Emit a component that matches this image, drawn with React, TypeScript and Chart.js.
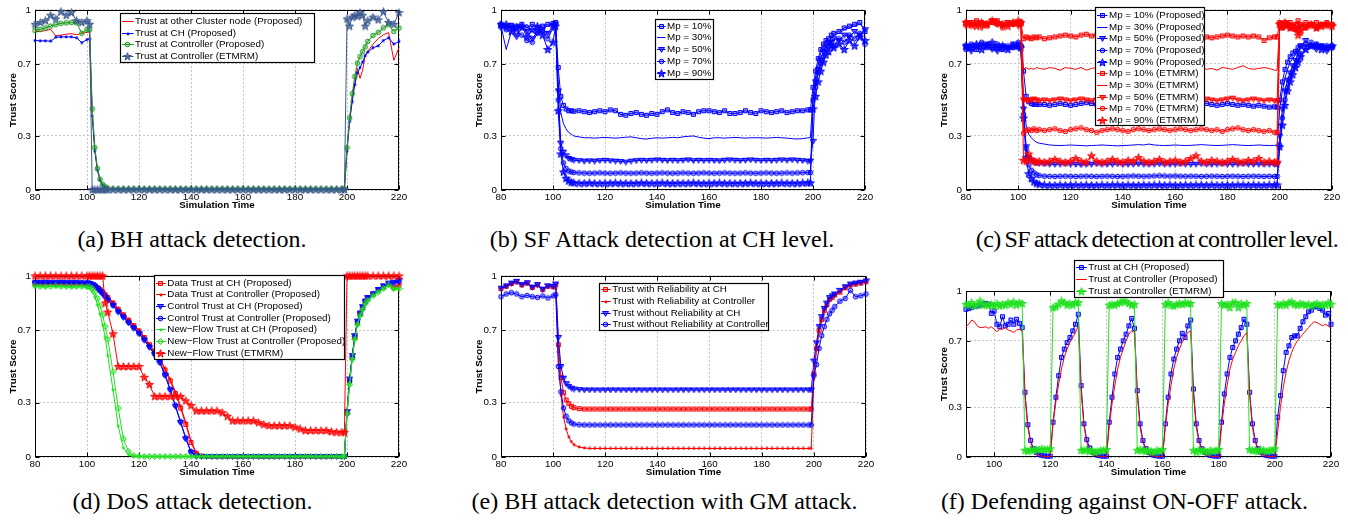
import React, { useEffect, useRef } from "react";
import { Chart, registerables } from "chart.js";

Chart.register(...registerables);
Chart.defaults.font.family = '"Liberation Sans", Arial, Helvetica, sans-serif';
Chart.defaults.color = "#000";

// ================= axes / ticks =================
const X_TICKS = [80, 100, 120, 140, 160, 180, 200, 220];
const X_TICK_LABELS = ["80", "100", "120", "140", "160", "180", "200", "220"];
const X_TICKS_F = [100, 120, 140, 160, 180, 200, 220];
const X_TICK_LABELS_F = ["100", "120", "140", "160", "180", "200", "220"];
const Y_TICKS = [0, 0.3, 0.7, 1];
const Y_TICK_LABELS = ["0", "0.3", "0.7", "1"];
const X_TITLE = "Simulation Time";
const Y_TITLE = "Trust Score";

// ================= sample times =================
const XA = [
  80, 82, 84, 86, 88, 90, 92, 94, 96, 98, 100,
  101, 102, 103, 104, 105, 106, 107, 108,
  110, 112, 114, 116, 118, 120, 122, 124, 126, 128, 130, 132, 134, 136, 138,
  140, 142, 144, 146, 148, 150, 152, 154, 156, 158, 160, 162, 164, 166, 168,
  170, 172, 174, 176, 178, 180, 182, 184, 186, 188, 190, 192, 194, 196, 198,
  199, 200, 201, 202, 203, 204, 205, 206, 207, 208,
  210, 212, 214, 216, 218, 220,
];
const XF = [
  90, 91, 92, 93, 94, 95, 96, 97, 98, 99,
  100, 101, 102, 103, 104, 105, 106, 107, 108, 109,
  110, 111, 112, 113, 114, 115, 116, 117, 118, 119,
  120, 121, 122, 123, 124, 125, 126, 127, 128, 129,
  130, 131, 132, 133, 134, 135, 136, 137, 138, 139,
  140, 141, 142, 143, 144, 145, 146, 147, 148, 149,
  150, 151, 152, 153, 154, 155, 156, 157, 158, 159,
  160, 161, 162, 163, 164, 165, 166, 167, 168, 169,
  170, 171, 172, 173, 174, 175, 176, 177, 178, 179,
  180, 181, 182, 183, 184, 185, 186, 187, 188, 189,
  190, 191, 192, 193, 194, 195, 196, 197, 198, 199,
  200, 201, 202, 203, 204, 205, 206, 207, 208, 209,
  210, 211, 212, 213, 214, 215, 216, 217, 218, 219,
  220,
];

// ================= (a) BH attack detection =================
const A_OTHER = [
  0.88, 0.88, 0.885, 0.892, 0.855, 0.86, 0.865, 0.868, 0.862, 0.87, 0.875,
  0.878, 0.44, 0.23, 0.115, 0.058, 0.03, 0.016, 0.009,
  0.005, 0.005, 0.005, 0.005, 0.005, 0.005, 0.005, 0.005, 0.005, 0.005, 0.005, 0.005, 0.005, 0.005, 0.005,
  0.005, 0.005, 0.005, 0.005, 0.005, 0.005, 0.005, 0.005, 0.005, 0.005, 0.005, 0.005, 0.005, 0.005, 0.005,
  0.005, 0.005, 0.005, 0.005, 0.005, 0.005, 0.005, 0.005, 0.005, 0.005, 0.005, 0.005, 0.005, 0.005, 0.005,
  0.005, 0.23, 0.39, 0.51, 0.6, 0.675, 0.62, 0.665, 0.75, 0.77,
  0.81, 0.84, 0.862, 0.874, 0.72, 0.79,
];
const A_CH = [
  0.83, 0.828, 0.828, 0.826, 0.848, 0.85, 0.85, 0.85, 0.845, 0.818, 0.835,
  0.838, 0.41, 0.215, 0.11, 0.055, 0.028, 0.015, 0.008,
  0.004, 0.004, 0.004, 0.004, 0.004, 0.004, 0.004, 0.004, 0.004, 0.004, 0.004, 0.004, 0.004, 0.004, 0.004,
  0.004, 0.004, 0.004, 0.004, 0.004, 0.004, 0.004, 0.004, 0.004, 0.004, 0.004, 0.004, 0.004, 0.004, 0.004,
  0.004, 0.004, 0.004, 0.004, 0.004, 0.004, 0.004, 0.004, 0.004, 0.004, 0.004, 0.004, 0.004, 0.004, 0.004,
  0.004, 0.215, 0.38, 0.49, 0.585, 0.65, 0.68, 0.71, 0.745, 0.765,
  0.79, 0.8, 0.83, 0.845, 0.81, 0.825,
];
const A_CTRL = [
  0.885, 0.892, 0.9, 0.91, 0.918, 0.925, 0.928, 0.93, 0.928, 0.87, 0.892,
  0.89, 0.45, 0.235, 0.12, 0.06, 0.032, 0.018, 0.01,
  0.006, 0.006, 0.006, 0.006, 0.006, 0.006, 0.006, 0.006, 0.006, 0.006, 0.006, 0.006, 0.006, 0.006, 0.006,
  0.006, 0.006, 0.006, 0.006, 0.006, 0.006, 0.006, 0.006, 0.006, 0.006, 0.006, 0.006, 0.006, 0.006, 0.006,
  0.006, 0.006, 0.006, 0.006, 0.006, 0.006, 0.006, 0.006, 0.006, 0.006, 0.006, 0.006, 0.006, 0.006, 0.006,
  0.006, 0.235, 0.4, 0.535, 0.63, 0.705, 0.74, 0.768, 0.795, 0.825,
  0.858, 0.875, 0.9, 0.918, 0.88, 0.9,
];
const A_ETMRM = [
  0.92, 0.93, 0.94, 0.97, 0.95, 0.99, 0.97, 0.985, 0.94, 0.93, 0.94,
  0.92, 0.002, 0.002, 0.002, 0.002, 0.002, 0.002, 0.002,
  0.002, 0.002, 0.002, 0.002, 0.002, 0.002, 0.002, 0.002, 0.002, 0.002, 0.002, 0.002, 0.002, 0.002, 0.002,
  0.002, 0.002, 0.002, 0.002, 0.002, 0.002, 0.002, 0.002, 0.002, 0.002, 0.002, 0.002, 0.002, 0.002, 0.002,
  0.002, 0.002, 0.002, 0.002, 0.002, 0.002, 0.002, 0.002, 0.002, 0.002, 0.002, 0.002, 0.002, 0.002, 0.002,
  0.002, 0.95, 0.91, 0.96, 0.97, 0.965, 0.985, 0.97, 0.91, 0.94,
  0.96, 0.945, 0.99, 0.93, 0.92, 0.985,
];

// ================= (b) SF attack at CH level =================
const B_10 = [
  0.92, 0.9, 0.915, 0.91, 0.92, 0.9, 0.92, 0.9, 0.91, 0.92, 0.925,
  0.93, 0.68, 0.52, 0.47, 0.45, 0.44, 0.44, 0.437,
  0.44, 0.435, 0.43, 0.435, 0.44, 0.435, 0.445, 0.44, 0.42, 0.415, 0.425, 0.43, 0.42, 0.415, 0.425,
  0.42, 0.435, 0.445, 0.43, 0.425, 0.435, 0.43, 0.42, 0.435, 0.44, 0.44, 0.435, 0.43, 0.44, 0.425,
  0.425, 0.43, 0.44, 0.43, 0.425, 0.44, 0.435, 0.43, 0.435, 0.44, 0.43, 0.435, 0.44, 0.44, 0.445,
  0.445, 0.57, 0.66, 0.73, 0.78, 0.81, 0.83, 0.84, 0.86, 0.87,
  0.88, 0.9, 0.91, 0.92, 0.93, 0.88,
];
const B_30 = [
  0.91, 0.78, 0.88, 0.91, 0.9, 0.92, 0.88, 0.86, 0.9, 0.91, 0.92,
  0.925, 0.6, 0.43, 0.37, 0.34, 0.32, 0.31, 0.3,
  0.295, 0.29, 0.29, 0.288, 0.29, 0.292, 0.29, 0.288, 0.29, 0.293, 0.295, 0.29, 0.285, 0.283, 0.287,
  0.29, 0.288, 0.29, 0.292, 0.29, 0.295, 0.298, 0.3, 0.293, 0.288, 0.285, 0.29, 0.29, 0.288, 0.29,
  0.292, 0.29, 0.288, 0.29, 0.29, 0.29, 0.288, 0.29, 0.292, 0.29, 0.288, 0.285, 0.283, 0.285, 0.29,
  0.29, 0.52, 0.63, 0.7, 0.76, 0.79, 0.82, 0.83, 0.84, 0.86,
  0.87, 0.89, 0.9, 0.91, 0.92, 0.9,
];
const B_50 = [
  0.9, 0.91, 0.9, 0.85, 0.9, 0.88, 0.84, 0.88, 0.89, 0.87, 0.91,
  0.92, 0.55, 0.26, 0.21, 0.19, 0.175, 0.17, 0.165,
  0.163, 0.16, 0.162, 0.16, 0.163, 0.165, 0.162, 0.16, 0.158, 0.155, 0.16, 0.163, 0.165, 0.163, 0.165,
  0.167, 0.165, 0.163, 0.165, 0.163, 0.165, 0.167, 0.163, 0.165, 0.163, 0.165, 0.163, 0.162, 0.165, 0.167,
  0.165, 0.163, 0.165, 0.167, 0.165, 0.163, 0.165, 0.163, 0.165, 0.167, 0.165, 0.167, 0.165, 0.163, 0.16,
  0.16, 0.27, 0.6, 0.67, 0.72, 0.77, 0.8, 0.82, 0.82, 0.84,
  0.83, 0.86, 0.85, 0.88, 0.86, 0.89,
];
const B_70 = [
  0.91, 0.89, 0.91, 0.88, 0.86, 0.83, 0.82, 0.87, 0.88, 0.84, 0.9,
  0.92, 0.5, 0.23, 0.15, 0.12, 0.105, 0.1, 0.097,
  0.095, 0.094, 0.093, 0.094, 0.095, 0.094, 0.093, 0.094, 0.095, 0.094, 0.093, 0.094, 0.095, 0.094, 0.093,
  0.094, 0.095, 0.094, 0.093, 0.094, 0.095, 0.094, 0.093, 0.094, 0.095, 0.094, 0.093, 0.094, 0.095, 0.094,
  0.093, 0.094, 0.095, 0.094, 0.093, 0.094, 0.095, 0.094, 0.093, 0.094, 0.095, 0.094, 0.095, 0.096, 0.097,
  0.097, 0.5, 0.57, 0.65, 0.7, 0.74, 0.78, 0.8, 0.82, 0.8,
  0.84, 0.82, 0.86, 0.84, 0.87, 0.81,
];
const B_90 = [
  0.92, 0.92, 0.88, 0.9, 0.91, 0.85, 0.89, 0.91, 0.86, 0.78, 0.82,
  0.91, 0.44, 0.2, 0.1, 0.065, 0.05, 0.043, 0.04,
  0.038, 0.038, 0.039, 0.038, 0.037, 0.038, 0.038, 0.039, 0.038, 0.038, 0.037, 0.038, 0.039, 0.038, 0.038,
  0.038, 0.039, 0.038, 0.037, 0.038, 0.038, 0.038, 0.039, 0.038, 0.037, 0.038, 0.038, 0.039, 0.038, 0.038,
  0.037, 0.038, 0.038, 0.039, 0.038, 0.038, 0.037, 0.038, 0.038, 0.039, 0.038, 0.038, 0.038, 0.039, 0.04,
  0.04, 0.45, 0.52, 0.6, 0.66, 0.71, 0.75, 0.77, 0.8, 0.79,
  0.81, 0.78, 0.83, 0.8, 0.85, 0.83,
];

// ================= (c) SF attack at controller level =================
const C_P10 = [
  0.79, 0.8, 0.78, 0.81, 0.8, 0.79, 0.8, 0.78, 0.79, 0.8, 0.81,
  0.8, 0.66, 0.52, 0.49, 0.48, 0.475, 0.475, 0.475,
  0.475, 0.47, 0.475, 0.48, 0.475, 0.47, 0.475, 0.48, 0.485, 0.48, 0.475, 0.47, 0.475, 0.48, 0.475,
  0.47, 0.475, 0.48, 0.475, 0.47, 0.475, 0.48, 0.485, 0.48, 0.475, 0.47, 0.475, 0.48, 0.475, 0.48,
  0.485, 0.48, 0.475, 0.47, 0.475, 0.48, 0.475, 0.47, 0.475, 0.47, 0.465, 0.47, 0.465, 0.46, 0.462,
  0.46, 0.5, 0.6, 0.67, 0.71, 0.74, 0.76, 0.77, 0.79, 0.8,
  0.81, 0.8, 0.81, 0.8, 0.79, 0.8,
];
const C_P30 = [
  0.77, 0.79, 0.8, 0.78, 0.82, 0.8, 0.79, 0.77, 0.8, 0.78, 0.8,
  0.8, 0.5, 0.36, 0.31, 0.29, 0.275, 0.265, 0.26,
  0.255, 0.25, 0.248, 0.247, 0.248, 0.25, 0.248, 0.247, 0.245, 0.247, 0.248, 0.25, 0.248, 0.247, 0.245,
  0.247, 0.248, 0.25, 0.252, 0.25, 0.255, 0.25, 0.248, 0.247, 0.248, 0.25, 0.248, 0.247, 0.248, 0.25,
  0.252, 0.25, 0.248, 0.247, 0.248, 0.25, 0.252, 0.25, 0.248, 0.247, 0.248, 0.25, 0.248, 0.247, 0.248,
  0.25, 0.45, 0.55, 0.62, 0.67, 0.71, 0.73, 0.75, 0.77, 0.79,
  0.8, 0.79, 0.8, 0.81, 0.8, 0.81,
];
const C_P50 = [
  0.8, 0.77, 0.79, 0.8, 0.81, 0.78, 0.77, 0.8, 0.79, 0.81, 0.79,
  0.79, 0.45, 0.24, 0.18, 0.165, 0.155, 0.15, 0.148,
  0.145, 0.143, 0.142, 0.143, 0.145, 0.143, 0.142, 0.14, 0.142, 0.143, 0.145, 0.143, 0.142, 0.143, 0.145,
  0.143, 0.142, 0.143, 0.145, 0.143, 0.142, 0.143, 0.145, 0.143, 0.142, 0.143, 0.145, 0.143, 0.142, 0.143,
  0.145, 0.143, 0.142, 0.143, 0.145, 0.143, 0.142, 0.143, 0.145, 0.143, 0.142, 0.143, 0.142, 0.143, 0.142,
  0.142, 0.3, 0.45, 0.55, 0.61, 0.65, 0.69, 0.72, 0.76, 0.8,
  0.83, 0.8, 0.78, 0.8, 0.77, 0.79,
];
const C_P70 = [
  0.78, 0.81, 0.8, 0.82, 0.79, 0.8, 0.81, 0.79, 0.8, 0.79, 0.82,
  0.8, 0.42, 0.23, 0.14, 0.11, 0.095, 0.085, 0.08,
  0.077, 0.076, 0.075, 0.076, 0.077, 0.076, 0.075, 0.076, 0.077, 0.076, 0.075, 0.076, 0.077, 0.076, 0.075,
  0.076, 0.077, 0.078, 0.077, 0.076, 0.077, 0.078, 0.079, 0.078, 0.077, 0.078, 0.077, 0.076, 0.077, 0.076,
  0.075, 0.076, 0.077, 0.076, 0.075, 0.076, 0.077, 0.076, 0.075, 0.076, 0.077, 0.076, 0.075, 0.076, 0.075,
  0.075, 0.25, 0.4, 0.5, 0.57, 0.62, 0.66, 0.69, 0.72, 0.75,
  0.79, 0.82, 0.8, 0.79, 0.8, 0.79,
];
const C_P90 = [
  0.8, 0.79, 0.81, 0.78, 0.8, 0.82, 0.79, 0.8, 0.78, 0.8, 0.8,
  0.79, 0.4, 0.18, 0.09, 0.065, 0.045, 0.037, 0.032,
  0.028, 0.027, 0.027, 0.028, 0.027, 0.028, 0.028, 0.027, 0.028, 0.027, 0.027, 0.028, 0.027, 0.028, 0.028,
  0.027, 0.028, 0.027, 0.027, 0.028, 0.027, 0.028, 0.028, 0.027, 0.028, 0.027, 0.027, 0.028, 0.027, 0.028,
  0.028, 0.027, 0.028, 0.027, 0.027, 0.028, 0.027, 0.028, 0.028, 0.027, 0.028, 0.027, 0.027, 0.028, 0.028,
  0.028, 0.24, 0.36, 0.47, 0.55, 0.6, 0.64, 0.68, 0.71, 0.74,
  0.78, 0.8, 0.8, 0.78, 0.79, 0.8,
];
const C_E10 = [
  0.93, 0.92, 0.94, 0.93, 0.92, 0.93, 0.94, 0.92, 0.93, 0.92, 0.93,
  0.93, 0.84, 0.85, 0.845, 0.84, 0.85, 0.845, 0.85,
  0.84, 0.845, 0.85, 0.855, 0.86, 0.855, 0.85, 0.86, 0.865, 0.855, 0.86, 0.85, 0.845, 0.85, 0.855,
  0.86, 0.85, 0.845, 0.85, 0.86, 0.855, 0.85, 0.845, 0.85, 0.855, 0.86, 0.855, 0.85, 0.845, 0.85,
  0.855, 0.85, 0.845, 0.85, 0.855, 0.86, 0.855, 0.85, 0.855, 0.85, 0.855, 0.85, 0.83, 0.845, 0.85,
  0.85, 0.93, 0.92, 0.93, 0.92, 0.93, 0.91, 0.92, 0.94, 0.92,
  0.93, 0.92, 0.93, 0.92, 0.93, 0.92,
];
const C_E30 = [
  0.92, 0.93, 0.91, 0.92, 0.94, 0.92, 0.91, 0.93, 0.92, 0.91, 0.92,
  0.92, 0.67, 0.68, 0.67, 0.675, 0.67, 0.68, 0.675,
  0.67, 0.68, 0.675, 0.665, 0.68, 0.675, 0.67, 0.68, 0.665, 0.675, 0.68, 0.67, 0.675, 0.68, 0.67,
  0.675, 0.665, 0.68, 0.675, 0.67, 0.68, 0.675, 0.67, 0.68, 0.675, 0.665, 0.675, 0.68, 0.67, 0.675,
  0.68, 0.67, 0.675, 0.665, 0.68, 0.675, 0.67, 0.68, 0.69, 0.675, 0.67, 0.675, 0.68, 0.675, 0.665,
  0.665, 0.92, 0.91, 0.92, 0.9, 0.92, 0.91, 0.92, 0.93, 0.91,
  0.92, 0.91, 0.92, 0.93, 0.92, 0.91,
];
const C_E50 = [
  0.91, 0.93, 0.92, 0.9, 0.92, 0.94, 0.92, 0.91, 0.93, 0.92, 0.91,
  0.92, 0.5, 0.5, 0.495, 0.5, 0.505, 0.5, 0.495,
  0.5, 0.495, 0.5, 0.505, 0.5, 0.495, 0.5, 0.505, 0.5, 0.495, 0.5, 0.505, 0.5, 0.495, 0.5,
  0.505, 0.5, 0.495, 0.5, 0.505, 0.5, 0.495, 0.5, 0.505, 0.5, 0.495, 0.5, 0.505, 0.5, 0.495,
  0.5, 0.505, 0.5, 0.495, 0.5, 0.505, 0.51, 0.5, 0.495, 0.5, 0.505, 0.5, 0.495, 0.5, 0.495,
  0.495, 0.92, 0.9, 0.91, 0.92, 0.9, 0.91, 0.89, 0.9, 0.91,
  0.9, 0.92, 0.9, 0.91, 0.92, 0.91,
];
const C_E70 = [
  0.92, 0.91, 0.93, 0.92, 0.91, 0.93, 0.92, 0.9, 0.92, 0.93, 0.92,
  0.92, 0.315, 0.33, 0.335, 0.33, 0.34, 0.33, 0.335,
  0.33, 0.335, 0.34, 0.33, 0.325, 0.335, 0.34, 0.345, 0.335, 0.33, 0.32, 0.33, 0.335, 0.34, 0.335,
  0.33, 0.325, 0.335, 0.34, 0.335, 0.33, 0.335, 0.34, 0.335, 0.33, 0.335, 0.34, 0.335, 0.33, 0.335,
  0.34, 0.335, 0.33, 0.335, 0.325, 0.335, 0.34, 0.345, 0.335, 0.33, 0.335, 0.33, 0.325, 0.33, 0.32,
  0.32, 0.91, 0.9, 0.92, 0.91, 0.9, 0.91, 0.89, 0.88, 0.87,
  0.9, 0.91, 0.9, 0.92, 0.91, 0.92,
];
const C_E90 = [
  0.93, 0.92, 0.91, 0.93, 0.92, 0.94, 0.93, 0.92, 0.91, 0.93, 0.94,
  0.93, 0.165, 0.16, 0.2, 0.17, 0.16, 0.155, 0.16,
  0.155, 0.16, 0.17, 0.16, 0.155, 0.16, 0.175, 0.16, 0.155, 0.19, 0.16, 0.155, 0.16, 0.17, 0.16,
  0.155, 0.165, 0.16, 0.18, 0.16, 0.155, 0.16, 0.17, 0.155, 0.16, 0.165, 0.155, 0.16, 0.175, 0.19,
  0.16, 0.155, 0.165, 0.16, 0.155, 0.16, 0.17, 0.16, 0.155, 0.165, 0.16, 0.175, 0.155, 0.16, 0.155,
  0.155, 0.92, 0.91, 0.93, 0.92, 0.9, 0.91, 0.9, 0.86, 0.89,
  0.91, 0.92, 0.9, 0.91, 0.92, 0.91,
];

// ================= (d) DoS attack detection =================
const D_DATA_CH = [
  0.955, 0.955, 0.953, 0.955, 0.955, 0.953, 0.955, 0.955, 0.955, 0.953, 0.955,
  0.953, 0.95, 0.945, 0.935, 0.925, 0.91, 0.895, 0.88,
  0.85, 0.815, 0.785, 0.755, 0.725, 0.695, 0.66, 0.62, 0.58, 0.54, 0.48, 0.42, 0.35, 0.27, 0.18,
  0.08, 0.02, 0.006, 0.003, 0.003, 0.003, 0.003, 0.003, 0.003, 0.003, 0.003, 0.003, 0.003, 0.003, 0.003,
  0.003, 0.003, 0.003, 0.003, 0.003, 0.003, 0.003, 0.003, 0.003, 0.003, 0.003, 0.003, 0.003, 0.003, 0.003,
  0.003, 0.25, 0.42, 0.55, 0.66, 0.74, 0.79, 0.825, 0.86, 0.88,
  0.9, 0.925, 0.94, 0.955, 0.935, 0.95,
];
const D_DATA_CTRL = [
  0.958, 0.958, 0.957, 0.958, 0.958, 0.957, 0.958, 0.958, 0.958, 0.957, 0.958,
  0.956, 0.953, 0.948, 0.94, 0.93, 0.915, 0.9, 0.885,
  0.855, 0.82, 0.79, 0.76, 0.73, 0.7, 0.665, 0.625, 0.585, 0.545, 0.49, 0.43, 0.36, 0.28, 0.19,
  0.09, 0.025, 0.008, 0.004, 0.003, 0.003, 0.003, 0.003, 0.003, 0.003, 0.003, 0.003, 0.003, 0.003, 0.003,
  0.003, 0.003, 0.003, 0.003, 0.003, 0.003, 0.003, 0.003, 0.003, 0.003, 0.003, 0.003, 0.003, 0.003, 0.003,
  0.003, 0.25, 0.42, 0.55, 0.66, 0.74, 0.79, 0.825, 0.86, 0.88,
  0.9, 0.925, 0.94, 0.955, 0.935, 0.95,
];
const D_CTRL_CH = [
  0.962, 0.962, 0.963, 0.962, 0.962, 0.963, 0.962, 0.962, 0.962, 0.96, 0.96,
  0.957, 0.952, 0.943, 0.93, 0.915, 0.9, 0.882, 0.865,
  0.835, 0.8, 0.77, 0.74, 0.71, 0.68, 0.645, 0.605, 0.565, 0.52, 0.45, 0.37, 0.28, 0.19, 0.1,
  0.025, 0.005, 0.003, 0.003, 0.003, 0.003, 0.003, 0.003, 0.003, 0.003, 0.003, 0.003, 0.003, 0.003, 0.003,
  0.003, 0.003, 0.003, 0.003, 0.003, 0.003, 0.003, 0.003, 0.003, 0.003, 0.003, 0.003, 0.003, 0.003, 0.003,
  0.003, 0.25, 0.43, 0.56, 0.67, 0.75, 0.795, 0.83, 0.86, 0.88,
  0.9, 0.925, 0.945, 0.96, 0.965, 0.975,
];
const D_CTRL_CTRL = [
  0.965, 0.965, 0.966, 0.965, 0.965, 0.966, 0.965, 0.965, 0.965, 0.963, 0.963,
  0.96, 0.955, 0.946, 0.934, 0.92, 0.905, 0.887, 0.87,
  0.84, 0.805, 0.775, 0.745, 0.715, 0.685, 0.65, 0.61, 0.57, 0.525, 0.455, 0.375, 0.285, 0.195, 0.105,
  0.03, 0.007, 0.003, 0.003, 0.003, 0.003, 0.003, 0.003, 0.003, 0.003, 0.003, 0.003, 0.003, 0.003, 0.003,
  0.003, 0.003, 0.003, 0.003, 0.003, 0.003, 0.003, 0.003, 0.003, 0.003, 0.003, 0.003, 0.003, 0.003, 0.003,
  0.003, 0.24, 0.42, 0.55, 0.665, 0.745, 0.79, 0.825, 0.855, 0.875,
  0.9, 0.92, 0.94, 0.955, 0.96, 0.97,
];
const D_NF_CH = [
  0.94, 0.942, 0.94, 0.945, 0.94, 0.942, 0.94, 0.938, 0.94, 0.942, 0.935,
  0.93, 0.915, 0.885, 0.84, 0.79, 0.73, 0.66, 0.56,
  0.37, 0.17, 0.05, 0.012, 0.004, 0.003, 0.003, 0.003, 0.003, 0.003, 0.003, 0.003, 0.003, 0.003, 0.003,
  0.003, 0.003, 0.003, 0.003, 0.003, 0.003, 0.003, 0.003, 0.003, 0.003, 0.003, 0.003, 0.003, 0.003, 0.003,
  0.003, 0.003, 0.003, 0.003, 0.003, 0.003, 0.003, 0.003, 0.003, 0.003, 0.003, 0.003, 0.003, 0.003, 0.003,
  0.003, 0.24, 0.4, 0.54, 0.65, 0.73, 0.78, 0.815, 0.845, 0.865,
  0.89, 0.91, 0.93, 0.945, 0.925, 0.925,
];
const D_NF_CTRL = [
  0.945, 0.94, 0.942, 0.94, 0.945, 0.94, 0.942, 0.94, 0.942, 0.94, 0.94,
  0.94, 0.93, 0.91, 0.875, 0.835, 0.785, 0.72, 0.65,
  0.47, 0.27, 0.1, 0.03, 0.008, 0.004, 0.003, 0.003, 0.003, 0.003, 0.003, 0.003, 0.003, 0.003, 0.003,
  0.003, 0.003, 0.003, 0.003, 0.003, 0.003, 0.003, 0.003, 0.003, 0.003, 0.003, 0.003, 0.003, 0.003, 0.003,
  0.003, 0.003, 0.003, 0.003, 0.003, 0.003, 0.003, 0.003, 0.003, 0.003, 0.003, 0.003, 0.003, 0.003, 0.003,
  0.003, 0.24, 0.4, 0.54, 0.65, 0.73, 0.78, 0.815, 0.845, 0.865,
  0.89, 0.91, 0.93, 0.95, 0.93, 0.93,
];
const D_ETMRM = [
  1, 1, 1, 1, 1, 1, 1, 1, 1, 1, 1,
  1, 1, 1, 1, 1, 1, 0.85, 0.8,
  0.68, 0.5, 0.5, 0.5, 0.5, 0.5, 0.44, 0.4, 0.335, 0.335, 0.335, 0.335, 0.335, 0.335, 0.31,
  0.285, 0.255, 0.255, 0.255, 0.255, 0.255, 0.245, 0.225, 0.2, 0.2, 0.2, 0.2, 0.2, 0.19, 0.18,
  0.173, 0.173, 0.173, 0.173, 0.173, 0.165, 0.155, 0.146, 0.146, 0.146, 0.146, 0.146, 0.14, 0.137, 0.137,
  0.137, 1, 1, 1, 1, 1, 1, 1, 1, 1,
  1, 1, 1, 1, 1, 1,
];

// ================= (e) BH with GM attack =================
const E_WITH_CH = [
  0.93, 0.943, 0.958, 0.967, 0.95, 0.96, 0.936, 0.95, 0.925, 0.943, 0.94,
  0.95, 0.62, 0.44, 0.355, 0.315, 0.295, 0.28, 0.272,
  0.267, 0.265, 0.265, 0.265, 0.265, 0.265, 0.265, 0.265, 0.265, 0.265, 0.265, 0.265, 0.265, 0.265, 0.265,
  0.265, 0.265, 0.265, 0.265, 0.265, 0.265, 0.265, 0.265, 0.265, 0.265, 0.265, 0.265, 0.265, 0.265, 0.265,
  0.265, 0.265, 0.265, 0.265, 0.265, 0.265, 0.265, 0.265, 0.265, 0.265, 0.265, 0.265, 0.265, 0.265, 0.265,
  0.265, 0.46, 0.6, 0.7, 0.76, 0.81, 0.84, 0.87, 0.88, 0.895,
  0.91, 0.935, 0.95, 0.955, 0.96, 0.968,
];
const E_WITH_CTRL = [
  0.928, 0.94, 0.955, 0.965, 0.948, 0.958, 0.935, 0.948, 0.923, 0.94, 0.938,
  0.93, 0.58, 0.34, 0.22, 0.155, 0.11, 0.085, 0.068,
  0.055, 0.05, 0.047, 0.047, 0.047, 0.047, 0.047, 0.047, 0.047, 0.047, 0.047, 0.047, 0.047, 0.047, 0.047,
  0.047, 0.047, 0.047, 0.047, 0.047, 0.047, 0.047, 0.047, 0.047, 0.047, 0.047, 0.047, 0.047, 0.047, 0.047,
  0.047, 0.047, 0.047, 0.047, 0.047, 0.047, 0.047, 0.047, 0.047, 0.047, 0.047, 0.047, 0.047, 0.047, 0.047,
  0.047, 0.43, 0.59, 0.69, 0.75, 0.8, 0.835, 0.865, 0.88, 0.89,
  0.91, 0.93, 0.945, 0.955, 0.96, 0.965,
];
const E_WO_CH = [
  0.932, 0.945, 0.96, 0.97, 0.952, 0.962, 0.938, 0.952, 0.927, 0.945, 0.942,
  0.955, 0.66, 0.5, 0.435, 0.405, 0.39, 0.38, 0.375,
  0.372, 0.37, 0.37, 0.37, 0.37, 0.37, 0.37, 0.37, 0.37, 0.37, 0.37, 0.37, 0.37, 0.37, 0.37,
  0.37, 0.37, 0.37, 0.37, 0.37, 0.37, 0.37, 0.37, 0.37, 0.37, 0.37, 0.37, 0.37, 0.37, 0.37,
  0.37, 0.37, 0.37, 0.37, 0.37, 0.37, 0.37, 0.37, 0.37, 0.37, 0.37, 0.37, 0.37, 0.37, 0.37,
  0.37, 0.53, 0.63, 0.72, 0.775, 0.82, 0.85, 0.88, 0.89, 0.9,
  0.92, 0.94, 0.955, 0.96, 0.965, 0.972,
];
const E_WO_CTRL = [
  0.885, 0.9, 0.907, 0.9, 0.885, 0.892, 0.885, 0.881, 0.889, 0.878, 0.889,
  0.896, 0.5, 0.36, 0.27, 0.225, 0.2, 0.188, 0.182,
  0.178, 0.177, 0.177, 0.177, 0.177, 0.177, 0.177, 0.177, 0.177, 0.177, 0.177, 0.177, 0.177, 0.177, 0.177,
  0.177, 0.177, 0.177, 0.177, 0.177, 0.177, 0.177, 0.177, 0.177, 0.177, 0.177, 0.177, 0.177, 0.177, 0.177,
  0.177, 0.177, 0.177, 0.177, 0.177, 0.177, 0.177, 0.177, 0.177, 0.177, 0.177, 0.177, 0.177, 0.177, 0.177,
  0.177, 0.45, 0.51, 0.6, 0.67, 0.72, 0.76, 0.79, 0.81, 0.83,
  0.86, 0.875, 0.92, 0.885, 0.89, 0.9,
];

// ================= (f) ON-OFF attack =================
const F_CH = [
  0.89, 0.895, 0.9, 0.91, 0.91, 0.915, 0.92, 0.925, 0.92, 0.865,
  0.88, 0.8, 0.785, 0.845, 0.79, 0.8, 0.825, 0.8, 0.83, 0.805,
  0.78, 0.39, 0.195, 0.1, 0.05, 0.028, 0.016, 0.01, 0.007, 0.005,
  0.005, 0.21, 0.36, 0.49, 0.6, 0.65, 0.69, 0.72, 0.76, 0.8,
  0.86, 0.43, 0.2, 0.105, 0.055, 0.03, 0.018, 0.01, 0.007, 0.005,
  0.005, 0.21, 0.36, 0.5, 0.6, 0.65, 0.7, 0.74, 0.79, 0.835,
  0.775, 0.4, 0.2, 0.1, 0.05, 0.028, 0.016, 0.01, 0.007, 0.005,
  0.005, 0.2, 0.36, 0.5, 0.59, 0.65, 0.7, 0.745, 0.72, 0.79,
  0.825, 0.41, 0.2, 0.1, 0.05, 0.028, 0.016, 0.01, 0.007, 0.005,
  0.005, 0.21, 0.38, 0.5, 0.6, 0.66, 0.7, 0.74, 0.78, 0.83,
  0.8, 0.39, 0.2, 0.1, 0.05, 0.028, 0.016, 0.01, 0.007, 0.005,
  0.005, 0.24, 0.37, 0.52, 0.63, 0.67, 0.72, 0.73, 0.73, 0.775,
  0.815, 0.845, 0.875, 0.885, 0.905, 0.905, 0.895, 0.885, 0.855, 0.865,
  0.8,
];
const F_CTRL = [
  0.785, 0.8, 0.825, 0.815, 0.79, 0.78, 0.78, 0.785, 0.775, 0.785,
  0.77, 0.755, 0.77, 0.77, 0.78, 0.765, 0.76, 0.75, 0.765, 0.77,
  0.76, 0.37, 0.18, 0.09, 0.045, 0.02, 0.01, 0.005, 0.003, 0.002,
  0.002, 0.2, 0.33, 0.44, 0.53, 0.6, 0.65, 0.69, 0.72, 0.75,
  0.79, 0.4, 0.19, 0.09, 0.045, 0.02, 0.01, 0.005, 0.003, 0.002,
  0.002, 0.18, 0.32, 0.43, 0.53, 0.6, 0.65, 0.7, 0.74, 0.76,
  0.75, 0.38, 0.18, 0.09, 0.045, 0.02, 0.01, 0.005, 0.003, 0.002,
  0.002, 0.18, 0.32, 0.43, 0.53, 0.6, 0.65, 0.69, 0.72, 0.75,
  0.76, 0.38, 0.18, 0.09, 0.045, 0.02, 0.01, 0.005, 0.003, 0.002,
  0.002, 0.18, 0.32, 0.43, 0.53, 0.59, 0.63, 0.67, 0.7, 0.73,
  0.75, 0.38, 0.18, 0.09, 0.045, 0.02, 0.01, 0.005, 0.003, 0.002,
  0.002, 0.15, 0.3, 0.42, 0.51, 0.58, 0.63, 0.67, 0.7, 0.72,
  0.74, 0.76, 0.78, 0.8, 0.815, 0.81, 0.8, 0.79, 0.8, 0.79,
  0.775,
];
const F_ETMRM = [
  0.92, 0.915, 0.93, 0.91, 0.92, 0.94, 0.915, 0.92, 0.915, 0.92,
  0.91, 0.925, 0.91, 0.92, 0.915, 0.93, 0.92, 0.935, 0.915, 0.93,
  0.925, 0.04, 0.035, 0.045, 0.04, 0.045, 0.045, 0.05, 0.045, 0.045,
  0.05, 0.9, 0.905, 0.92, 0.94, 0.93, 0.915, 0.925, 0.915, 0.93,
  0.93, 0.04, 0.04, 0.045, 0.035, 0.04, 0.03, 0.035, 0.04, 0.04,
  0.045, 0.915, 0.92, 0.915, 0.925, 0.93, 0.94, 0.935, 0.925, 0.915,
  0.92, 0.04, 0.045, 0.04, 0.035, 0.04, 0.035, 0.03, 0.04, 0.035,
  0.045, 0.92, 0.93, 0.915, 0.91, 0.92, 0.925, 0.92, 0.93, 0.925,
  0.925, 0.04, 0.03, 0.045, 0.035, 0.04, 0.03, 0.04, 0.035, 0.04,
  0.045, 0.925, 0.915, 0.92, 0.9, 0.93, 0.93, 0.9, 0.925, 0.915,
  0.925, 0.045, 0.04, 0.04, 0.035, 0.045, 0.04, 0.035, 0.04, 0.04,
  0.05, 0.92, 0.915, 0.925, 0.915, 0.93, 0.935, 0.92, 0.915, 0.925,
  0.92, 0.915, 0.92, 0.91, 0.92, 0.925, 0.915, 0.92, 0.915, 0.93,
  0.92,
];

// ================= styling / layout =================
const RED = "#ff0000";
const BLUE = "#0000ff";
const GREEN_DARK = "#1e9a1e";
const GREEN = "#1fe01f";
const SLATE = "#3c5a8e";

type Shape = "square" | "circle" | "tridown" | "star" | "diamond" | "dot" | null;
type Series = { label: string; data: number[]; color: string; marker: Shape };
type Panel = {
  id: string;
  plot: { l: number; t: number; r: number; b: number };
  padTop: number;
  xMin: number;
  xMax: number;
  xTicks: number[];
  xTickLabels: string[];
  xs: number[];
  series: Series[];
  legend: { x: number; y: number; w: number; h: number; first: number; step: number; textX: number };
};

const PANELS: Panel[] = [
  {
    id: "a",
    plot: { l: 35, t: 7, r: 399, b: 190 },
    padTop: 7, xMin: 80, xMax: 220, xTicks: X_TICKS, xTickLabels: X_TICK_LABELS, xs: XA,
    series: [
      { label: "Trust at other Cluster node (Proposed)", data: A_OTHER, color: RED, marker: null },
      { label: "Trust at CH (Proposed)", data: A_CH, color: BLUE, marker: "dot" },
      { label: "Trust at Controller (Proposed)", data: A_CTRL, color: GREEN_DARK, marker: "circle" },
      { label: "Trust at Controller (ETMRM)", data: A_ETMRM, color: SLATE, marker: "star" },
    ],
    legend: { x: 120, y: 13, w: 194, h: 49, first: 20.7, step: 11.8, textX: 15 },
  },
  {
    id: "b",
    plot: { l: 501, t: 7, r: 865, b: 190 },
    padTop: 7, xMin: 80, xMax: 220, xTicks: X_TICKS, xTickLabels: X_TICK_LABELS, xs: XA,
    series: [
      { label: "Mp = 10%", data: B_10, color: BLUE, marker: "square" },
      { label: "Mp = 30%", data: B_30, color: BLUE, marker: null },
      { label: "Mp = 50%", data: B_50, color: BLUE, marker: "tridown" },
      { label: "Mp = 70%", data: B_70, color: BLUE, marker: "circle" },
      { label: "Mp = 90%", data: B_90, color: BLUE, marker: "star" },
    ],
    legend: { x: 655, y: 19, w: 58, h: 60, first: 25.5, step: 11.9, textX: 12 },
  },
  {
    id: "c",
    plot: { l: 966, t: 7, r: 1332, b: 190 },
    padTop: 7, xMin: 80, xMax: 220, xTicks: X_TICKS, xTickLabels: X_TICK_LABELS, xs: XA,
    series: [
      { label: "Mp = 10% (Proposed)", data: C_P10, color: BLUE, marker: "square" },
      { label: "Mp = 30% (Proposed)", data: C_P30, color: BLUE, marker: null },
      { label: "Mp = 50% (Proposed)", data: C_P50, color: BLUE, marker: "tridown" },
      { label: "Mp = 70% (Proposed)", data: C_P70, color: BLUE, marker: "circle" },
      { label: "Mp = 90% (Proposed)", data: C_P90, color: BLUE, marker: "star" },
      { label: "Mp = 10% (ETMRM)", data: C_E10, color: RED, marker: "square" },
      { label: "Mp = 30% (ETMRM)", data: C_E30, color: RED, marker: null },
      { label: "Mp = 50% (ETMRM)", data: C_E50, color: RED, marker: "tridown" },
      { label: "Mp = 70% (ETMRM)", data: C_E70, color: RED, marker: "circle" },
      { label: "Mp = 90% (ETMRM)", data: C_E90, color: RED, marker: "star" },
    ],
    legend: { x: 1095, y: 7, w: 109, h: 118, first: 15, step: 11.67, textX: 14 },
  },
  {
    id: "d",
    plot: { l: 35, t: 274, r: 399, b: 457 },
    padTop: 8, xMin: 80, xMax: 220, xTicks: X_TICKS, xTickLabels: X_TICK_LABELS, xs: XA,
    series: [
      { label: "Data Trust at CH (Proposed)", data: D_DATA_CH, color: RED, marker: "square" },
      { label: "Data Trust at Controller (Proposed)", data: D_DATA_CTRL, color: RED, marker: "dot" },
      { label: "Control Trust at CH (Proposed)", data: D_CTRL_CH, color: BLUE, marker: "tridown" },
      { label: "Control Trust at Controller (Proposed)", data: D_CTRL_CTRL, color: BLUE, marker: "circle" },
      { label: "New\u2212Flow Trust at CH (Proposed)", data: D_NF_CH, color: GREEN, marker: "dot" },
      { label: "New\u2212Flow Trust at Controller (Proposed)", data: D_NF_CTRL, color: GREEN, marker: "diamond" },
      { label: "New\u2212Flow Trust (ETMRM)", data: D_ETMRM, color: RED, marker: "star" },
    ],
    legend: { x: 154, y: 275, w: 190, h: 84, first: 282.7, step: 11.67, textX: 13.3 },
  },
  {
    id: "e",
    plot: { l: 501, t: 274, r: 866, b: 457 },
    padTop: 8, xMin: 80, xMax: 220, xTicks: X_TICKS, xTickLabels: X_TICK_LABELS, xs: XA,
    series: [
      { label: "Trust with Reliability at CH", data: E_WITH_CH, color: RED, marker: "square" },
      { label: "Trust with Reliability at Controller", data: E_WITH_CTRL, color: RED, marker: "dot" },
      { label: "Trust without Reliability at CH", data: E_WO_CH, color: BLUE, marker: "tridown" },
      { label: "Trust without Reliability at Controller", data: E_WO_CTRL, color: BLUE, marker: "circle" },
    ],
    legend: { x: 599, y: 283, w: 169, h: 47, first: 288.8, step: 11.85, textX: 13.3 },
  },
  {
    id: "f",
    plot: { l: 966, t: 291, r: 1331, b: 457 },
    padTop: 34, xMin: 90, xMax: 220, xTicks: X_TICKS_F, xTickLabels: X_TICK_LABELS_F, xs: XF,
    series: [
      { label: "Trust at CH (Proposed)", data: F_CH, color: BLUE, marker: "square" },
      { label: "Trust at Controller (Proposed)", data: F_CTRL, color: RED, marker: null },
      { label: "Trust at Controller (ETMRM)", data: F_ETMRM, color: GREEN, marker: "star" },
    ],
    legend: { x: 1074, y: 260, w: 149, h: 37, first: 267, step: 12.2, textX: 14.3 },
  },
];

const CAPTIONS = [
  { text: "(a) BH attack detection.", cx: 192, top: 225, ls: 0, ws: 0 },
  { text: "(b) SF Attack detection at CH level.", cx: 662, top: 225, ls: 0, ws: 0 },
  { text: "(c) SF attack detection at controller level.", cx: 1157, top: 225, ls: -0.6, ws: -1.5 },
  { text: "(d) DoS attack detection.", cx: 192.5, top: 487, ls: 0, ws: 0 },
  { text: "(e) BH attack detection with GM attack.", cx: 664.5, top: 487, ls: 0, ws: 0 },
  { text: "(f) Defending against ON-OFF attack.", cx: 1124.5, top: 487, ls: 0, ws: 0 },
];

const Y_AXIS_W = 35;
const X_AXIS_H = 26;
const PAD_RIGHT = 14;
const FONT_SIZE = 9.8;

// ================= markers =================
const markerCache = new Map<string, HTMLCanvasElement>();
function makeMarker(shape: Shape, color: string): HTMLCanvasElement | null {
  if (!shape) return null;
  const key = shape + color;
  const cached = markerCache.get(key);
  if (cached) return cached;
  const S = shape === "star" ? 9 : shape === "dot" ? 4 : 7;
  const c = document.createElement("canvas");
  c.width = S;
  c.height = S;
  const g = c.getContext("2d")!;
  g.strokeStyle = color;
  g.fillStyle = color;
  g.lineWidth = 1;
  const m = S / 2;
  let alpha = 0.35;
  g.beginPath();
  if (shape === "square") g.rect(1.5, 1.5, 4, 4);
  else if (shape === "circle") g.arc(m, m, 2.3, 0, Math.PI * 2);
  else if (shape === "tridown") {
    g.moveTo(0.5, 1.5);
    g.lineTo(6.5, 1.5);
    g.lineTo(3.5, 6.3);
    g.closePath();
    alpha = 0.6;
  } else if (shape === "diamond") {
    g.moveTo(m, 0.5);
    g.lineTo(S - 0.5, m);
    g.lineTo(m, S - 0.5);
    g.lineTo(0.5, m);
    g.closePath();
  } else if (shape === "star") {
    for (let k = 0; k < 10; k++) {
      const ang = -Math.PI / 2 + (k * Math.PI) / 5;
      const rad = k % 2 === 0 ? 4.1 : 1.7;
      const px = m + rad * Math.cos(ang);
      const py = m + 0.3 + rad * Math.sin(ang);
      if (k === 0) g.moveTo(px, py);
      else g.lineTo(px, py);
    }
    g.closePath();
    alpha = 0.75;
  } else if (shape === "dot") g.arc(m, m, 1.4, 0, Math.PI * 2);
  if (shape === "dot") g.fill();
  else {
    g.globalAlpha = alpha;
    g.fill();
    g.globalAlpha = 1;
    g.stroke();
  }
  markerCache.set(key, c);
  return c;
}

// ================= plugins =================
function makeFramePlugin(p: Panel) {
  return {
    id: "frame" + p.id,
    beforeDatasetsDraw(chart: any) {
      const { ctx, chartArea: a, scales } = chart;
      const L = Math.round(a.left) + 0.5;
      const R = Math.round(a.right) - 0.5;
      const T = Math.round(a.top) + 0.5;
      const B = Math.round(a.bottom) - 0.5;
      ctx.save();
      ctx.strokeStyle = "#000";
      ctx.lineWidth = 1;
      ctx.strokeRect(L, T, R - L, B - T);
      ctx.beginPath();
      p.xTicks.forEach((v) => {
        const x = Math.round(scales.x.getPixelForValue(v)) + 0.5;
        ctx.moveTo(x, B);
        ctx.lineTo(x, B - 4);
        ctx.moveTo(x, T);
        ctx.lineTo(x, T + 4);
      });
      Y_TICKS.forEach((v) => {
        const y = Math.round(scales.y.getPixelForValue(v)) + 0.5;
        ctx.moveTo(L, y);
        ctx.lineTo(L + 4, y);
        ctx.moveTo(R, y);
        ctx.lineTo(R - 4, y);
      });
      ctx.stroke();
      ctx.restore();
    },
  };
}

function makeLegendPlugin(p: Panel, ox: number, oy: number) {
  return {
    id: "boxLegend" + p.id,
    afterDraw(chart: any) {
      const ctx = chart.ctx;
      const lg = p.legend;
      const x = lg.x - ox;
      const y = lg.y - oy;
      ctx.save();
      ctx.fillStyle = "#fff";
      ctx.fillRect(x, y, lg.w, lg.h);
      ctx.strokeStyle = "#000";
      ctx.lineWidth = 1.2;
      ctx.strokeRect(x + 0.5, y + 0.5, lg.w, lg.h);
      ctx.font = `${FONT_SIZE}px "Liberation Sans", Arial, sans-serif`;
      ctx.textBaseline = "middle";
      ctx.textAlign = "left";
      p.series.forEach((s, i) => {
        const ry = Math.round(lg.first - oy + i * lg.step) + 0.5;
        const x0 = x + 2;
        const x1 = x + lg.textX - 1.5;
        ctx.strokeStyle = s.color;
        ctx.lineWidth = 1;
        ctx.beginPath();
        ctx.moveTo(x0, ry);
        ctx.lineTo(x1, ry);
        ctx.stroke();
        const img = makeMarker(s.marker, s.color);
        if (img) ctx.drawImage(img, Math.round((x0 + x1) / 2 - img.width / 2), Math.round(ry - img.height / 2));
        ctx.fillStyle = "#000";
        ctx.fillText(s.label, x + lg.textX, ry);
      });
      ctx.restore();
    },
  };
}

function geometry(p: Panel) {
  const cx = p.plot.l - Y_AXIS_W;
  const cy = p.plot.t - p.padTop;
  const cw = p.plot.r - p.plot.l + Y_AXIS_W + PAD_RIGHT;
  const ch = p.padTop + (p.plot.b - p.plot.t) + X_AXIS_H;
  return { cx, cy, cw, ch };
}

function buildConfig(p: Panel) {
  const { cx, cy } = geometry(p);
  const n = p.series.length;
  const datasets = p.series.map((s, i) => {
    if (s.data.length !== p.xs.length) {
      throw new Error(`series "${s.label}" has ${s.data.length} values, expected ${p.xs.length}`);
    }
    const img = makeMarker(s.marker, s.color);
    return {
      label: s.label,
      data: p.xs.map((x, k) => ({ x, y: s.data[k] })),
      borderColor: s.color,
      backgroundColor: s.color,
      borderWidth: 1,
      pointStyle: img || false,
      pointRadius: img ? 3 : 0,
      pointHoverRadius: 0,
      pointHitRadius: 0,
      tension: 0,
      clip: false,
      order: n - i,
    };
  });
  const gridOpts = { color: "#c6c6c6", lineWidth: 1, drawTicks: false };
  const borderOpts = { display: false, dash: [2, 2] };
  return {
    type: "line",
    data: { datasets },
    plugins: [makeFramePlugin(p), makeLegendPlugin(p, cx, cy)],
    options: {
      animation: false,
      responsive: false,
      maintainAspectRatio: false,
      events: [],
      layout: { padding: { left: 0, right: PAD_RIGHT, top: p.padTop, bottom: 0 } },
      plugins: { legend: { display: false }, tooltip: { enabled: false }, title: { display: false } },
      scales: {
        x: {
          type: "linear",
          min: p.xMin,
          max: p.xMax,
          afterBuildTicks: (ax: any) => {
            ax.ticks = p.xTicks.map((v) => ({ value: v }));
          },
          afterFit: (ax: any) => {
            ax.height = X_AXIS_H;
          },
          ticks: {
            callback: (_v: any, i: number) => p.xTickLabels[i],
            font: { size: FONT_SIZE },
            color: "#000",
            padding: 1,
            maxRotation: 0,
            autoSkip: false,
          },
          grid: gridOpts,
          border: borderOpts,
          title: {
            display: true,
            text: X_TITLE,
            color: "#000",
            font: { size: FONT_SIZE, weight: "bold" },
            padding: { top: 0, bottom: 4.5 },
          },
        },
        y: {
          type: "linear",
          min: 0,
          max: 1,
          afterBuildTicks: (ax: any) => {
            ax.ticks = Y_TICKS.map((v) => ({ value: v }));
          },
          afterFit: (ax: any) => {
            ax.width = Y_AXIS_W;
          },
          ticks: {
            callback: (_v: any, i: number) => Y_TICK_LABELS[i],
            font: { size: FONT_SIZE },
            color: "#000",
            padding: 4,
            autoSkip: false,
          },
          grid: gridOpts,
          border: borderOpts,
          title: {
            display: true,
            text: Y_TITLE,
            color: "#000",
            font: { size: FONT_SIZE, weight: "bold" },
            padding: { top: 7, bottom: 0 },
          },
        },
      },
    },
  };
}

function PanelChart({ p }: { p: Panel }) {
  const ref = useRef<HTMLCanvasElement>(null);
  const { cx, cy, cw, ch } = geometry(p);
  useEffect(() => {
    const canvas = ref.current;
    if (!canvas) return;
    const chart = new Chart(canvas, buildConfig(p) as any);
    return () => chart.destroy();
  }, [p]);
  return (
    <canvas
      ref={ref}
      width={cw}
      height={ch}
      style={{ position: "absolute", left: cx, top: cy, width: cw, height: ch }}
    />
  );
}

export default function App() {
  return (
    <div
      style={{
        position: "absolute",
        left: 0,
        top: 0,
        width: 1348,
        height: 525,
        background: "#fff",
        overflow: "hidden",
      }}
    >
      {PANELS.map((p) => (
        <PanelChart key={p.id} p={p} />
      ))}
      {CAPTIONS.map((c) => (
        <div
          key={c.text}
          style={{
            position: "absolute",
            left: c.cx - 260,
            width: 520,
            top: c.top,
            textAlign: "center",
            fontFamily: '"Liberation Serif", "Times New Roman", serif',
            fontSize: 24,
            lineHeight: "28px",
            letterSpacing: c.ls,
            wordSpacing: c.ws,
            whiteSpace: "nowrap",
            color: "#000",
          }}
        >
          {c.text}
        </div>
      ))}
    </div>
  );
}
